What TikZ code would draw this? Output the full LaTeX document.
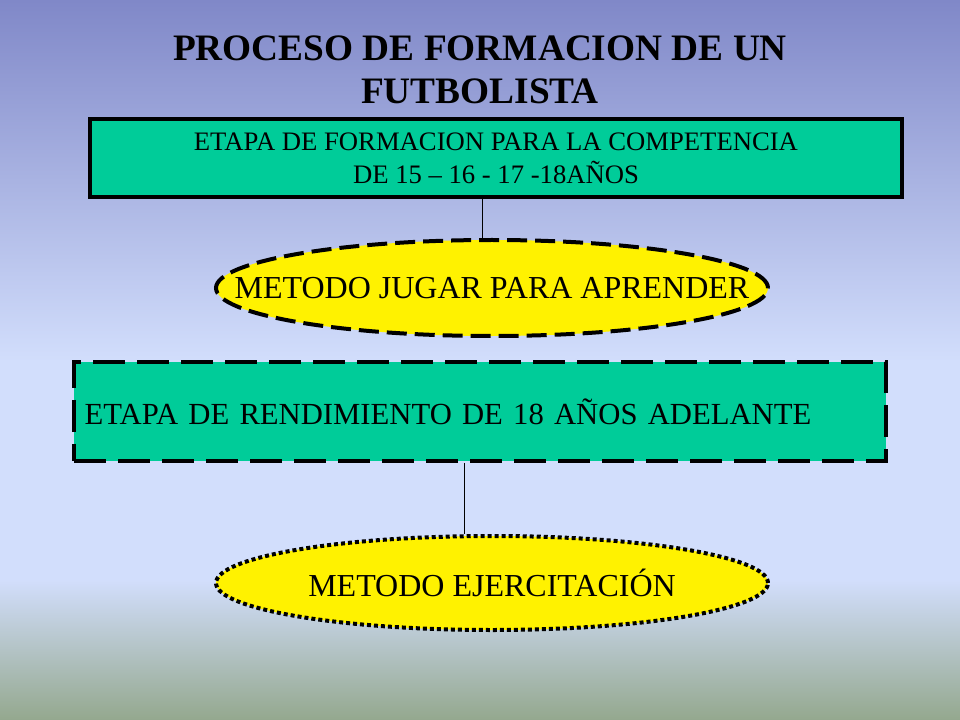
\documentclass[tikz,border=0pt]{standalone}
\usepackage{fontspec}
\setmainfont{Liberation Serif}
\usetikzlibrary{shapes.geometric}
\definecolor{etapagreen}{RGB}{0,204,153}
\definecolor{bgtop}{RGB}{128,136,200}
\definecolor{bgmid}{RGB}{210,222,252}
\definecolor{bgbottom}{RGB}{148,168,142}

\begin{document}
\begin{tikzpicture}[x=0.75pt, y=-0.75pt,
    etapa/.style={draw, line width=3pt, fill=etapagreen},
    metodo/.style={ellipse, draw, line width=3pt, fill=yellow, inner sep=0pt, font=\fontsize{24}{28}\selectfont},
    conector/.style={line width=0.75pt}]
    \useasboundingbox (0, 0) rectangle (960, 720);
    \shade [top color=bgtop, bottom color=bgmid] (0, 0) rectangle (960, 362);
    \fill [bgmid] (0, 360) rectangle (960, 582);
    \shade [top color=bgmid, bottom color=bgbottom] (0, 580) rectangle (960, 720);

    \node [align=center, font=\bfseries\fontsize{28}{32}\selectfont] (titulo) at (480, 70) {PROCESO DE FORMACION DE UN\\FUTBOLISTA};

    \node [etapa, minimum width=609pt, minimum height=58pt, inner sep=0pt, align=center, font=\fontsize{20}{25}\selectfont] (formacion) at (496, 158) {ETAPA DE FORMACION PARA LA COMPETENCIA\\DE 15 – 16 - 17 -18AÑOS};
    \node [metodo, dash pattern=on 15pt off 6pt, minimum width=414pt, minimum height=72pt] (jugar) at (492, 288) {\makebox[0pt]{METODO JUGAR PARA APRENDER}};

    \node [etapa, dash pattern=on 24pt off 9pt, minimum height=74pt, inner xsep=8pt, text width=593pt, align=left, font=\fontsize{23}{27}\selectfont] (rendimiento) at (480, 411.5) {ETAPA DE RENDIMIENTO DE 18 AÑOS ADELANTE};
    \node [metodo, dash pattern=on 3pt off 2.25pt, minimum width=414pt, minimum height=70.5pt] (ejercitacion) at (492, 583) {\makebox[0pt]{METODO EJERCITACIÓN}};

    \draw [conector] ([xshift=-10.5pt]formacion.south) -- ([xshift=-7.5pt]jugar.north);
    \draw [conector] ([xshift=-12pt]rendimiento.south) -- ([xshift=-21pt]ejercitacion.north);
\end{tikzpicture}
\end{document}
